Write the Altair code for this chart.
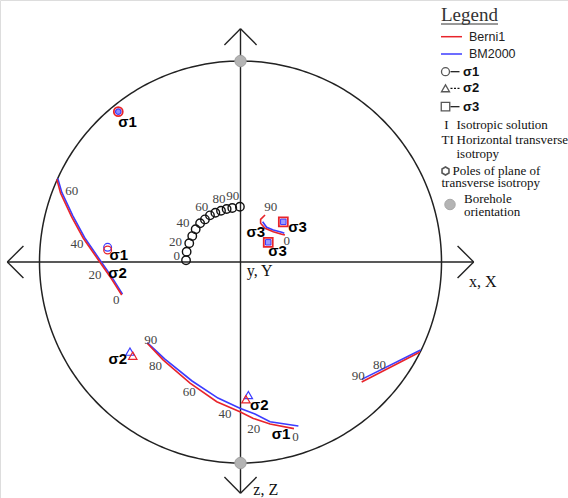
import numpy as np
import pandas as pd
import altair as alt

W, H = 568, 498
RED = "#e8242b"
BLUE = "#3c3cff"
SERIF = "Liberation Serif"
SANS = "Liberation Sans"

# projected net coordinates: primitive circle has radius 100
X_DOM = [-119.65, 162.93]
Y_DOM = [-117.41, 130.35]
NET_R = 100
AXIS_LEN = 116
HEAD = 8

# borehole orientation
bore_x = [0, 0]
bore_y = [100, -100]

# poles of the plane of transverse isotropy (0..90 deg)
pole_x = [-27.1, -26.8, -25.5, -24.0, -22.3, -20.1, -17.7, -15.2, -12.5, -9.7, -6.9, -4.1, -0.3]
pole_y = [0.9, 5.1, 9.3, 12.9, 16.3, 19.3, 21.2, 23.2, 24.5, 25.5, 26.4, 26.9, 27.5]
pole_lab = ["0", "20", "40", "60", "80", "90"]
pole_lab_x = [-31.7, -32.4, -28.6, -19.3, -10.7, -3.9]
pole_lab_y = [3.1, 10.0, 19.6, 27.4, 31.3, 32.8]

# sigma-1 path (left)
s1_berni_x = [-91.4, -89.5, -84.0, -78.2, -70.7, -64.9, -59.1]
s1_berni_y = [41.1, 34.2, 22.5, 11.8, 1.0, -7.3, -16.4]
s1_bm_x = [-90.9, -88.9, -83.4, -77.6, -70.2, -64.4, -58.7]
s1_bm_y = [41.6, 34.6, 23.0, 12.2, 1.4, -6.9, -16.0]
s1_lab = ["60", "40", "20", "0"]
s1_lab_x = [-84.0, -81.3, -72.4, -61.8]
s1_lab_y = [35.2, 9.1, -6.3, -18.7]

# sigma-3 path (centre)
s3_berni_x = [12.2, 10.0, 10.0, 12.2, 16.3, 20.5, 22.1]
s3_berni_y = [23.4, 21.2, 19.3, 16.8, 15.1, 13.8, 13.4]
s3_bm_x = [11.0, 13.0, 16.3, 20.5, 21.8]
s3_bm_y = [20.0, 17.3, 15.9, 14.8, 14.3]
s3_lab = ["90", "0"]
s3_lab_x = [15.1, 23.0]
s3_lab_y = [27.4, 10.3]

# lower path
low_berni_x = [-46.4, -38.4, -25.1, -11.8, -0.3, 6.4, 14.7, 26.6]
low_berni_y = [-40.4, -48.8, -60.3, -69.5, -74.5, -77.8, -80.6, -82.9]
low_bm_x = [-46.4, -37.6, -24.1, -11.2, -0.3, 7.2, 14.7, 28.8]
low_bm_y = [-40.1, -48.3, -59.2, -67.7, -72.8, -75.6, -79.5, -81.6]
low_lab = ["90", "80", "60", "40", "20", "0"]
low_lab_x = [-44.6, -42.3, -25.5, -7.7, 6.6, 27.3]
low_lab_y = [-38.6, -51.6, -64.8, -75.5, -83.3, -87.3]

# right path
rt_berni_x = [60.3, 89.3]
rt_berni_y = [-59.7, -44.8]
rt_bm_x = [60.3, 89.6]
rt_bm_y = [-58.4, -43.8]
rt_lab = ["90", "80"]
rt_lab_x = [58.6, 69.1]
rt_lab_y = [-56.7, -51.1]

# principal stress solutions
s1_red_x, s1_red_y = [-60.8, -66.1], [74.8, 6.0]
s1_blue_x, s1_blue_y = [-60.8, -66.1], [74.8, 7.3]
s2_red_x, s2_red_y = [-53.6, 2.7], [-46.6, -68.3]
s2_blue_x, s2_blue_y = [-55.0, 3.9], [-44.6, -66.2]
s3_x, s3_y = [21.3, 13.8], [20.0, 9.8]

sig_lab = ["σ1", "σ1", "σ2", "σ3", "σ3", "σ3", "σ2", "σ2", "σ1"]
sig_lab_x = [-56.2, -60.5, -61.2, 7.6, 28.4, 18.4, -61.0, 9.3, 20.2]
sig_lab_y = [69.8, 3.7, -5.4, 14.7, 17.4, 5.3, -48.5, -71.0, -85.5]

xs = alt.Scale(domain=X_DOM, nice=False, zero=False)
ys = alt.Scale(domain=Y_DOM, nice=False, zero=False)


def enc_xy():
    return dict(x=alt.X("x:Q", scale=xs, axis=None), y=alt.Y("y:Q", scale=ys, axis=None))


def path_df(pairs):
    rows = []
    for pid, (px, py) in enumerate(pairs):
        for i, (a, b) in enumerate(zip(px, py)):
            rows.append({"x": a, "y": b, "ord": i, "path": pid})
    return pd.DataFrame(rows)


def line_layer(pairs, color, width=1.6):
    return alt.Chart(path_df(pairs)).mark_line(color=color, strokeWidth=width).encode(
        order="ord:Q", detail="path:N", **enc_xy())


def text_layer(texts, tx, ty, size, font, color="black", weight="normal", style="normal", align="center"):
    df = pd.DataFrame({"x": tx, "y": ty, "t": texts})
    return alt.Chart(df).mark_text(fontSize=size, font=font, color=color, fontWeight=weight,
                                   fontStyle=style, align=align, baseline="middle").encode(
        text="t:N", **enc_xy())


def point_layer(px, py, shape, size, stroke, fill=None, width=1.3, opacity=1):
    df = pd.DataFrame({"x": px, "y": py})
    kw = dict(shape=shape, size=size, stroke=stroke, strokeWidth=width, opacity=1)
    if fill is None:
        kw.update(filled=False)
    else:
        kw.update(filled=True, fill=fill, fillOpacity=opacity)
    return alt.Chart(df).mark_point(**kw).encode(**enc_xy())


# primitive circle
th = np.linspace(0, 2 * np.pi, 361)
net = alt.Chart(pd.DataFrame({"x": NET_R * np.cos(th), "y": NET_R * np.sin(th), "ord": np.arange(361)})).mark_line(
    color="#222", strokeWidth=1.5).encode(order="ord:Q", **enc_xy())

# axes with arrow heads
L, h = AXIS_LEN, HEAD
seg = pd.DataFrame([
    {"x": -L, "y": 0, "x2": L, "y2": 0},
    {"x": 0, "y": -L + 1, "x2": 0, "y2": L},
    {"x": 0, "y": L, "x2": -h, "y2": L - h},
    {"x": 0, "y": L, "x2": h, "y2": L - h},
    {"x": 0, "y": -L + 1, "x2": -h, "y2": -L + 1 + h},
    {"x": 0, "y": -L + 1, "x2": h, "y2": -L + 1 + h},
    {"x": -L, "y": 0, "x2": -L + h, "y2": h},
    {"x": -L, "y": 0, "x2": -L + h, "y2": -h},
    {"x": L, "y": 0, "x2": L - h, "y2": h},
    {"x": L, "y": 0, "x2": L - h, "y2": -h},
])
axes = alt.Chart(seg).mark_rule(color="#222", strokeWidth=1.4).encode(
    x2="x2:Q", y2="y2:Q", **enc_xy())

axis_names = alt.Chart(pd.DataFrame({"x": [113.7, 3.1, 6.4], "y": [-10.0, -4.3, -113.4],
                                      "t": ["x, X", "y, Y", "z, Z"]})).mark_text(
    fontSize=16, font=SERIF, color="#111", align="left", baseline="middle").encode(text="t:N", **enc_xy())

bore = point_layer(bore_x, bore_y, "circle", 130, "#a0a0a0", fill="#b4b4b4", width=1)

poles = point_layer(pole_x, pole_y, "circle", 72, "#111", width=1.4)

num_kw = dict(size=13, font=SERIF, color="#444")
labels = [
    text_layer(pole_lab, pole_lab_x, pole_lab_y, **num_kw),
    text_layer(s1_lab, s1_lab_x, s1_lab_y, **num_kw),
    text_layer(s3_lab, s3_lab_x, s3_lab_y, **num_kw),
    text_layer(low_lab, low_lab_x, low_lab_y, **num_kw),
    text_layer(rt_lab, rt_lab_x, rt_lab_y, **num_kw),
    text_layer(sig_lab, sig_lab_x, sig_lab_y, size=15, font=SANS, weight="bold"),
]

bm_lines = line_layer([(s1_bm_x, s1_bm_y), (s3_bm_x, s3_bm_y), (low_bm_x, low_bm_y), (rt_bm_x, rt_bm_y)], BLUE)
berni_lines = line_layer([(s1_berni_x, s1_berni_y), (s3_berni_x, s3_berni_y),
                          (low_berni_x, low_berni_y), (rt_berni_x, rt_berni_y)], RED)

markers = [
    point_layer(s1_blue_x[:1], s1_blue_y[:1], "circle", 30, BLUE, fill="#8c8cff", width=1.2),
    point_layer(s1_red_x[:1], s1_red_y[:1], "circle", 80, RED, width=1.8),
    point_layer(s1_blue_x[1:], s1_blue_y[1:], "circle", 60, BLUE, width=1.3),
    point_layer(s1_red_x[1:], s1_red_y[1:], "circle", 60, RED, width=1.3),
    point_layer(s2_blue_x, s2_blue_y, "triangle-up", 70, BLUE, width=1.2),
    point_layer(s2_red_x, s2_red_y, "triangle-up", 70, RED, width=1.2),
    point_layer(s3_x, s3_y, "square", 30, BLUE, fill="#9a9aff", width=1),
    point_layer(s3_x, s3_y, "square", 80, RED, width=1.8),
]

# legend panel
one = pd.DataFrame({"a": [0]})


def ltext(t, x, y, size=13, font=SERIF, align="left", **kw):
    return alt.Chart(one).mark_text(text=t, fontSize=size, font=font, align=align,
                                    baseline="middle", color=kw.pop("color", "#111"), **kw).encode(
        x=alt.value(x), y=alt.value(y))


def lrule(x1, x2, y, color="#111", width=1.2, dash=None):
    kw = dict(color=color, strokeWidth=width)
    if dash:
        kw["strokeDash"] = dash
    return alt.Chart(one).mark_rule(**kw).encode(x=alt.value(x1), x2=alt.value(x2), y=alt.value(y))


def lsym(shape, x, y, size, stroke="#111", fill=None, width=1.3):
    kw = dict(shape=shape, size=size, stroke=stroke, strokeWidth=width)
    if fill is None:
        kw.update(filled=False)
    else:
        kw.update(filled=True, fill=fill, fillOpacity=1)
    return alt.Chart(one).mark_point(**kw).encode(x=alt.value(x), y=alt.value(y))


hexagon = "M0,-1L0.87,-0.5L0.87,0.5L0,1L-0.87,0.5L-0.87,-0.5Z"

legend = [
    ltext("Legend", 441, 15, size=19, color="#333"),
    lrule(441, 498, 24, color="#333", width=1),
    lrule(441, 462, 36.7, color=RED, width=1.5),
    ltext("Berni1", 469, 36.7, size=12.5, font=SANS, color="#222"),
    lrule(441, 462, 54, color=BLUE, width=1.5),
    ltext("BM2000", 469, 54, size=12.5, font=SANS, color="#222"),
    lsym("circle", 445.5, 71.7, 64),
    lrule(450.5, 459.5, 71.7),
    ltext("σ1", 463, 71.7, size=13, font=SANS, style="italic", fontWeight="bold"),
    lsym("triangle-up", 445.5, 88.3, 64),
    lrule(450.5, 459.5, 88.3, dash=[2, 1.5]),
    ltext("σ2", 463, 88.3, size=13, font=SANS, style="italic", fontWeight="bold"),
    lsym("square", 445.5, 106.7, 72),
    lrule(450.5, 459.5, 106.7),
    ltext("σ3", 463, 106.7, size=13, font=SANS, style="italic", fontWeight="bold"),
    ltext("I", 446.5, 125, align="center"),
    ltext("Isotropic solution", 456.5, 125),
    ltext("TI", 441.5, 139.5),
    ltext("Horizontal transverse", 456.5, 139.5),
    ltext("isotropy", 456.5, 154),
    lsym(hexagon, 445.5, 171, 64, width=1.6),
    ltext("Poles of plane of", 452.5, 170.7),
    ltext("transverse isotropy", 441.5, 182.5),
    lsym("circle", 450, 204.5, 110, stroke="#a8a8a8", fill="#b4b4b4", width=1),
    ltext("Borehole", 464, 199),
    ltext("orientation", 464, 212),
]

chart = alt.layer(
    net, axes, axis_names, bore, poles, bm_lines, berni_lines, *markers, *labels, *legend
).properties(
    width=W, height=H, autosize=alt.AutoSizeParams(type="none"), padding=0
).configure_view(stroke=None).configure(background="white")

chart.save("out.html", embed_options={"renderer": "svg", "actions": False})
